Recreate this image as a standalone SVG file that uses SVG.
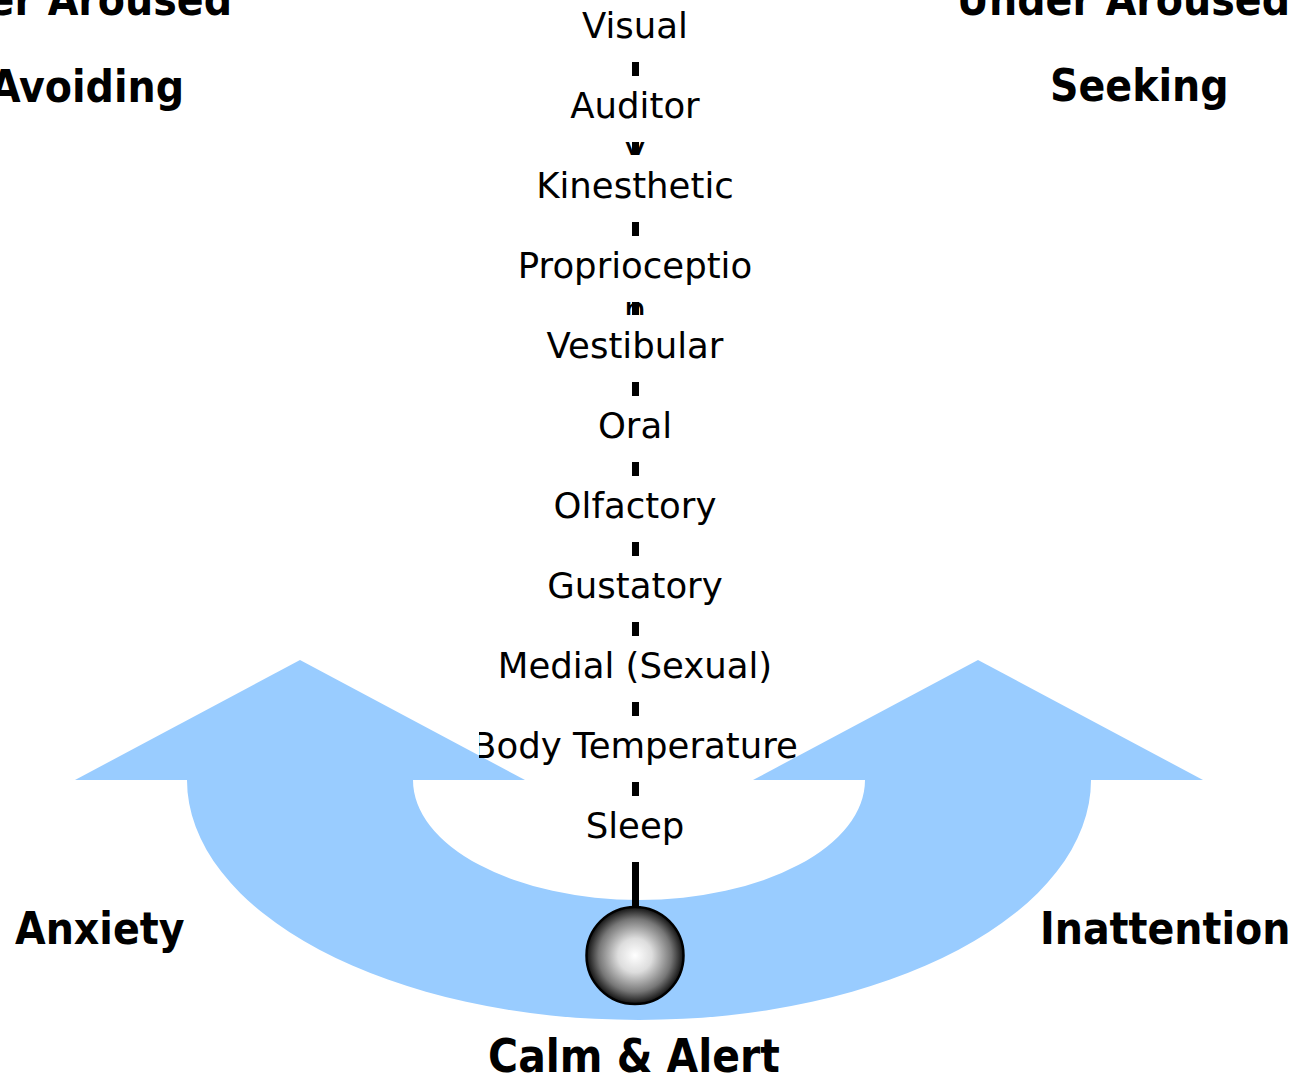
<svg xmlns="http://www.w3.org/2000/svg" width="1297" height="1077" viewBox="0 0 1297 1077">
<style>
.lbl{font-family:"DejaVu Sans","Liberation Sans",sans-serif;font-size:35.5px;fill:#000;text-anchor:middle}
.big{font-family:"DejaVu Sans Condensed","DejaVu Sans","Liberation Sans",sans-serif;font-stretch:condensed;font-weight:bold;font-size:44px;fill:#000}
.blue{fill:#99CCFF}
.box{fill:#fff}
</style>
<defs>
<radialGradient id="ballGrad" cx="0.5" cy="0.5" r="0.5">
<stop offset="0" stop-color="#ffffff"/>
<stop offset="0.35" stop-color="#dddddd"/>
<stop offset="0.75" stop-color="#777777"/>
<stop offset="1" stop-color="#111111"/>
</radialGradient>
<clipPath id="clipBody"><rect x="479" y="716" width="330" height="66"/></clipPath>
<clipPath id="clipY"><rect x="600" y="142" width="70" height="13"/></clipPath>
<clipPath id="clipN"><rect x="600" y="302" width="70" height="13"/></clipPath>
</defs>
<rect width="1297" height="1077" fill="#fff"/>

<g id="arc">
<path class="blue" d="M187,780 A452,240 0 0 0 1091,780 L865,780 A226,120 0 0 1 413,780 Z"/>
<polygon class="blue" points="75,780 300,660 525,780"/>
<polygon class="blue" points="753,780 978,660 1203,780"/>
</g>

<g id="connectors">
<line x1="635.5" y1="0" x2="635.5" y2="910" stroke="#000" stroke-width="7"/>
</g>

<g id="fragments">
<text class="lbl" x="635" y="162" clip-path="url(#clipY)">y</text>
<text class="lbl" x="635" y="322" clip-path="url(#clipN)">n</text>
</g>

<g id="node-visual"><rect class="box" x="620" y="-4" width="31" height="66"/><text class="lbl" x="635" y="38">Visual</text></g>
<g id="node-auditor"><rect class="box" x="620" y="76" width="31" height="66"/><text class="lbl" x="635" y="118">Auditor</text></g>
<g id="node-kinesthetic"><rect class="box" x="620" y="155" width="31" height="67"/><text class="lbl" x="635" y="198">Kinesthetic</text></g>
<g id="node-proprioception"><rect class="box" x="620" y="236" width="31" height="66"/><text class="lbl" x="635" y="278">Proprioceptio</text></g>
<g id="node-vestibular"><rect class="box" x="620" y="315" width="31" height="67"/><text class="lbl" x="635" y="358">Vestibular</text></g>
<g id="node-oral"><rect class="box" x="620" y="396" width="31" height="66"/><text class="lbl" x="635" y="438">Oral</text></g>
<g id="node-olfactory"><rect class="box" x="620" y="476" width="31" height="66"/><text class="lbl" x="635" y="518">Olfactory</text></g>
<g id="node-gustatory"><rect class="box" x="620" y="556" width="31" height="66"/><text class="lbl" x="635" y="598">Gustatory</text></g>
<g id="node-medial"><rect class="box" x="620" y="636" width="31" height="66"/><text class="lbl" x="635" y="678">Medial (Sexual)</text></g>
<g id="node-body"><rect class="box" x="620" y="716" width="31" height="66"/><text class="lbl" x="635" y="758" clip-path="url(#clipBody)">Body Temperature</text></g>
<g id="node-sleep"><rect class="box" x="620" y="796" width="31" height="66"/><text class="lbl" x="635" y="838">Sleep</text></g>

<g id="ball"><circle cx="635" cy="955.5" r="48.5" fill="url(#ballGrad)" stroke="#000" stroke-width="2.5"/></g>

<g id="labels">
<text class="big" x="232" y="15" text-anchor="end">Over Aroused</text>
<text class="big" x="184" y="102" text-anchor="end">Avoiding</text>
<text class="big" x="1290" y="15" text-anchor="end">Under Aroused</text>
<text class="big" x="1050" y="101">Seeking</text>
<text class="big" x="15" y="944">Anxiety</text>
<text class="big" x="1040" y="944">Inattention</text>
<text class="big" x="634" y="1072" text-anchor="middle" style="font-size:45.5px">Calm &amp; Alert</text>
</g>
</svg>
